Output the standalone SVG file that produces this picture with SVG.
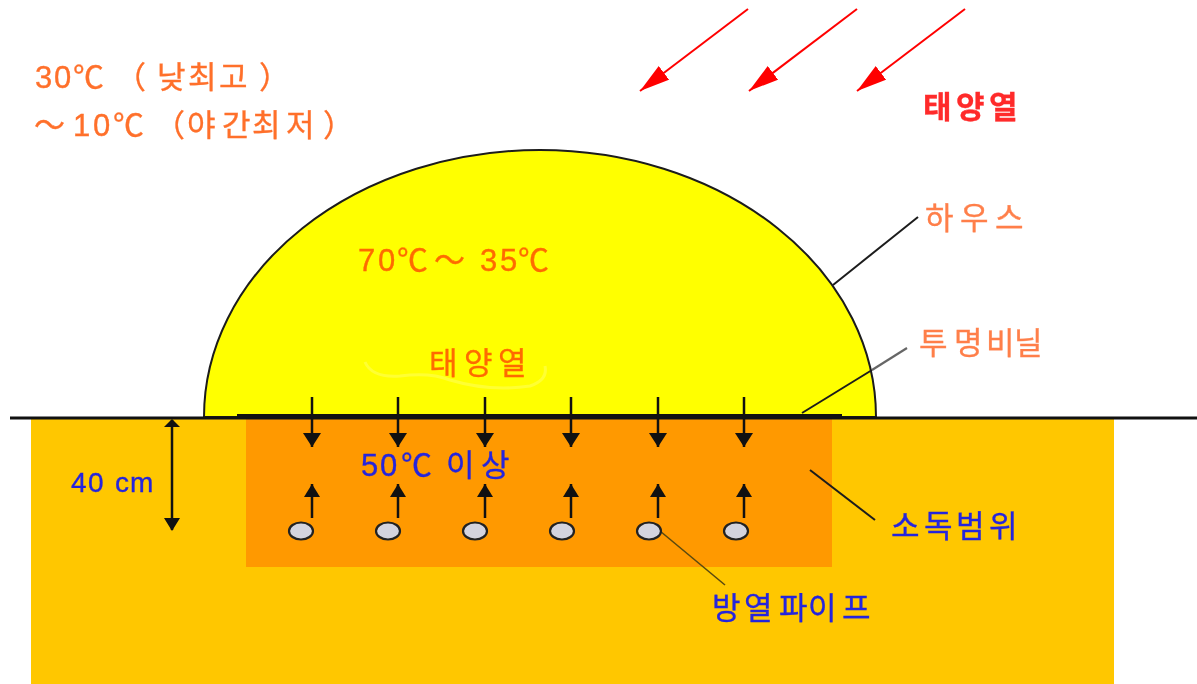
<svg xmlns="http://www.w3.org/2000/svg" width="1197" height="684" viewBox="0 0 1197 684">
<style>
text{font-family:"Liberation Sans","Noto Sans CJK KR",sans-serif;font-size:31px;stroke-width:.35;filter:url(#soft)}
.o{fill:#ff6f2a;stroke:#ff6f2a}.s{fill:#ff7f4a;stroke:#ff7f4a}.b{fill:#2525dd;stroke:#2525dd}.r{fill:#ff2a2a;stroke:#ff2a2a}.d{fill:#ff6a00;stroke:#ff6a00}
.l{stroke:#1c1c1c;stroke-width:2;fill:none}
.sun{stroke:#f00;stroke-width:2;fill:none;marker-end:url(#ra)}
.dn{stroke:#111;stroke-width:2.5;fill:none;marker-end:url(#kd)}
.up{stroke:#111;stroke-width:2.5;fill:none;marker-end:url(#ku)}
.p{fill:#d4d4de;stroke:#222;stroke-width:2.2}
</style>
<defs>
<filter id="soft" x="-5%" y="-20%" width="110%" height="140%"><feGaussianBlur stdDeviation="0.45"/></filter>
<marker id="ra" markerUnits="userSpaceOnUse" markerWidth="32" markerHeight="20" refX="30" refY="8.5" orient="auto"><path d="M0 0L30 8.5L0 17Z" fill="#f00"/></marker>
<marker id="kd" markerUnits="userSpaceOnUse" markerWidth="16" markerHeight="20" refX="14" refY="9" orient="auto"><path d="M0 0L14 9L0 18Z" fill="#111"/></marker>
<marker id="ku" markerUnits="userSpaceOnUse" markerWidth="16" markerHeight="18" refX="13" refY="8" orient="auto"><path d="M0 0L13 8L0 16Z" fill="#111"/></marker>
</defs>
<rect width="1197" height="684" fill="#fff"/>
<g id="soil"><rect x="31" y="418" width="1083" height="266" fill="#ffc700"/></g>
<g id="zone"><rect x="246" y="418" width="586" height="149" fill="#ff9900"/></g>
<g id="house"><path d="M204 417A336 267 0 0 1 876 417Z" fill="#ff0" stroke="#1c1c1c" stroke-width="2"/>
<path d="M365 362Q372 378 400 376Q430 372 450 380Q490 392 530 386Q548 380 545 366" fill="none" stroke="#ffffa8" stroke-width="3" opacity=".3"/></g>
<g id="ground"><path d="M10 418H1197" stroke="#111" stroke-width="3"/><path d="M237 416H842" stroke="#111" stroke-width="4"/></g>
<g id="connectors">
<path class="sun" d="M748 9L640 91"/><path class="sun" d="M857 9L749 91"/><path class="sun" d="M965 9L857 91"/>
<path class="l" d="M833 285L918 217"/>
<path class="l" d="M802 413L872 370"/><path d="M872 370L907 348" stroke="#666" stroke-width="2.2"/>
<path class="l" d="M810 470L875 520"/>
<path d="M660 531L725 585" stroke="#5a4a10" stroke-width="1.6"/>
<path class="dn" d="M312 397V447"/><path class="dn" d="M398 397V447"/><path class="dn" d="M485 397V447"/><path class="dn" d="M571 397V447"/><path class="dn" d="M658 397V447"/><path class="dn" d="M744 397V447"/>
<path class="up" d="M312 518V484"/><path class="up" d="M398 518V484"/><path class="up" d="M485 518V484"/><path class="up" d="M571 518V484"/><path class="up" d="M658 518V484"/><path class="up" d="M744 518V484"/>
<path d="M172 420V530" stroke="#111" stroke-width="2.5"/><path d="M164 427L172 419L180 427ZM164 518L172 531L180 518Z" fill="#111"/>
</g>
<g id="pipes">
<ellipse class="p" cx="301" cy="531" rx="12" ry="8.5"/><ellipse class="p" cx="388" cy="531" rx="12" ry="8.5"/><ellipse class="p" cx="475" cy="531" rx="12" ry="8.5"/><ellipse class="p" cx="562" cy="531" rx="12" ry="8.5"/><ellipse class="p" cx="649" cy="531" rx="12" ry="8.5"/><ellipse class="p" cx="736" cy="531" rx="12" ry="8.5"/>
</g>
<g id="labels">
<text class="o" x="35 54 73 115 157 188 219 259" y="88">30℃（낮최고）</text>
<text class="o" x="34 73 93 113 154 187 222 252 286 323" y="136">～10℃（야간최저）</text>
<text class="r" x="923 956 989" y="118" font-weight="bold">태양열</text>
<text class="s" x="925 960 995" y="229">하우스</text>
<text class="d" x="358 378 397 434 480 500 518" y="271">70℃～35℃</text>
<text class="s" x="919 954 986 1014" y="354">투명비닐</text>
<text class="d" x="429 464 498" y="374">태양열</text>
<text class="b" x="71 88 115 130" y="492" style="font-size:28px">40cm</text>
<text class="b" x="361 380 401 446 481" y="476">50℃이상</text>
<text class="b" x="891 924 956 989" y="537">소독범위</text>
<text class="b" x="712 744 779 808 842" y="619">방열파이프</text>
</g>
</svg>
